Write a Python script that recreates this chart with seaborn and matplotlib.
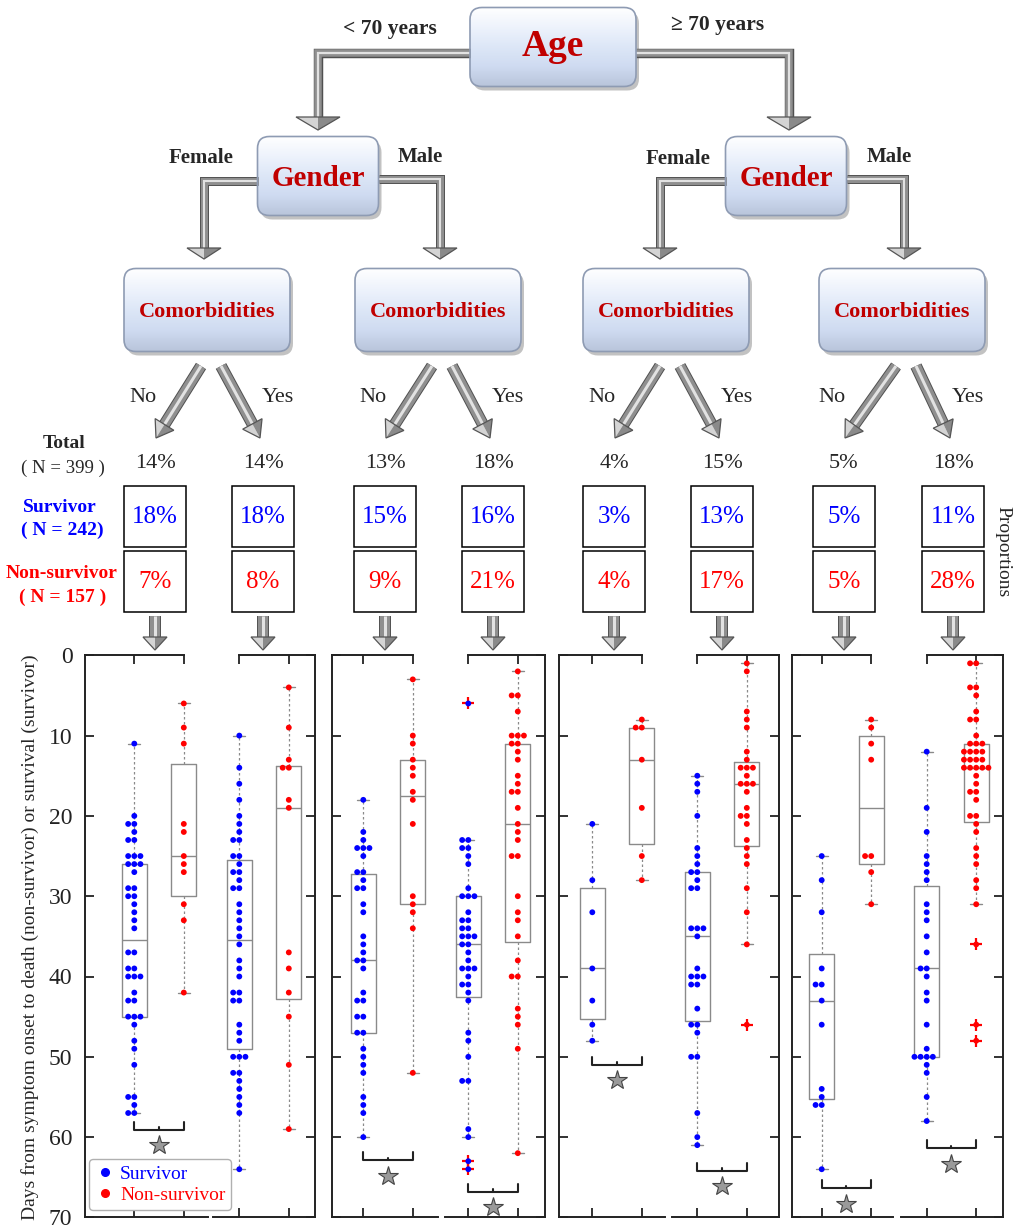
import numpy as np
import pandas as pd
import matplotlib
matplotlib.use("Agg")
import matplotlib.pyplot as plt
import seaborn as sns
from matplotlib.patches import FancyBboxPatch, Polygon, Rectangle
import matplotlib.patheffects as pe
from matplotlib.colors import LinearSegmentedColormap
from matplotlib.lines import Line2D

# ---------------- data ----------------
groups = ["<70 Female No", "<70 Female Yes", "<70 Male No", "<70 Male Yes",
          ">=70 Female No", ">=70 Female Yes", ">=70 Male No", ">=70 Male Yes"]

surv_lt70_female_no = [11, 20, 21, 21, 22, 23, 23, 25, 25, 25, 26, 26, 26, 27, 29, 29, 30, 30, 31, 32, 33, 34,
                       37, 37, 39, 39, 40, 40, 40, 42, 43, 43, 45, 45, 45, 46, 48, 49, 51, 55, 55, 56, 57, 57]
surv_lt70_female_yes = [10, 14, 16, 18, 20, 21, 22, 23, 23, 25, 25, 26, 27, 27, 28, 29, 29, 31, 32, 33, 34, 35,
                        36, 38, 39, 40, 42, 42, 43, 43, 46, 47, 48, 50, 50, 50, 52, 52, 53, 54, 55, 56, 57, 64]
surv_lt70_male_no = [18, 22, 23, 24, 24, 24, 25, 27, 27, 28, 29, 29, 31, 32, 35, 36, 37, 38, 38, 39, 42, 43, 43,
                     45, 45, 47, 47, 49, 50, 51, 52, 55, 56, 57, 60]
surv_lt70_male_yes = [6, 23, 23, 24, 24, 25, 26, 29, 30, 30, 30, 32, 33, 33, 34, 34, 35, 35, 35, 36, 36, 37, 38,
                      39, 39, 39, 40, 41, 41, 42, 43, 47, 48, 50, 53, 53, 59, 60, 63, 64]
surv_ge70_female_no = [21, 28, 32, 39, 43, 46, 48]
surv_ge70_female_yes = [15, 16, 17, 20, 24, 25, 26, 27, 27, 28, 29, 29, 34, 34, 34, 35, 39, 40, 40, 40, 41, 41,
                        44, 46, 46, 47, 50, 50, 57, 60, 61]
surv_ge70_male_no = [25, 28, 32, 39, 41, 41, 43, 46, 54, 55, 56, 56, 64]
surv_ge70_male_yes = [12, 19, 22, 25, 26, 27, 28, 31, 32, 33, 35, 37, 39, 39, 40, 42, 43, 46, 49, 50, 50, 50, 50,
                      51, 52, 55, 58]

nons_lt70_female_no = [6, 9, 11, 21, 22, 25, 26, 27, 31, 33, 42]
nons_lt70_female_yes = [4, 9, 13, 14, 14, 18, 19, 37, 39, 42, 45, 51, 59]
nons_lt70_male_no = [3, 10, 11, 13, 14, 15, 17, 18, 21, 30, 31, 32, 34, 52]
nons_lt70_male_yes = [2, 5, 5, 7, 10, 10, 10, 11, 11, 12, 13, 15, 16, 17, 17, 19, 21, 22, 23, 25, 25, 30, 32, 33,
                      35, 38, 40, 40, 44, 45, 46, 49, 62]
nons_ge70_female_no = [8, 9, 9, 13, 19, 25, 28]
nons_ge70_female_yes = [1, 2, 7, 8, 9, 12, 13, 14, 14, 14, 15, 16, 16, 16, 17, 19, 20, 20, 21, 23, 24, 25, 26,
                        29, 32, 36, 46]
nons_ge70_male_no = [8, 9, 11, 13, 25, 25, 27, 31]
nons_ge70_male_yes = [1, 1, 4, 4, 5, 7, 8, 8, 10, 11, 11, 11, 12, 12, 12, 12, 13, 13, 13, 13, 14, 14, 14, 14, 14,
                      15, 16, 17, 17, 18, 20, 20, 21, 22, 24, 25, 26, 28, 29, 31, 36, 46, 48]

survivor_groups = [surv_lt70_female_no, surv_lt70_female_yes, surv_lt70_male_no, surv_lt70_male_yes,
                   surv_ge70_female_no, surv_ge70_female_yes, surv_ge70_male_no, surv_ge70_male_yes]
nonsurvivor_groups = [nons_lt70_female_no, nons_lt70_female_yes, nons_lt70_male_no, nons_lt70_male_yes,
                      nons_ge70_female_no, nons_ge70_female_yes, nons_ge70_male_no, nons_ge70_male_yes]

total_pct = [14, 14, 13, 18, 4, 15, 5, 18]
survivor_pct = [18, 18, 15, 16, 3, 13, 5, 11]
nonsurvivor_pct = [7, 8, 9, 21, 4, 17, 5, 28]
comorb_labels = ["No", "Yes"]
yticks = [0, 10, 20, 30, 40, 50, 60, 70]
# significance brackets (None = no bracket)
bracket_y = [59.1, None, 62.9, 66.8, 51.0, 64.2, 66.4, 61.4]

STATUS = ["Survivor", "Non-survivor"]
PALETTE = {"Survivor": "#0000ff", "Non-survivor": "#ff0000"}
DARKRED = "#c00000"

# ---------------- style ----------------
sns.set_theme(style="ticks")
plt.rcParams["font.family"] = ["Liberation Serif", "DejaVu Serif"]
plt.rcParams["axes.edgecolor"] = "black"
plt.rcParams["xtick.color"] = "black"
plt.rcParams["ytick.color"] = "black"

W, H = 1020, 1228
fig = plt.figure(figsize=(W / 100, H / 100), dpi=100)
bg = fig.add_axes([0, 0, 1, 1], zorder=0)
bg.set_xlim(0, W)
bg.set_ylim(H, 0)
bg.axis("off")

grad_cmap = LinearSegmentedColormap.from_list(
    "boxgrad", ["#ffffff", "#eef3fc", "#dde7f7", "#cfdbf1", "#b9c5db"])


def draw_box(cx, cy, w, h, rad=12):
    x0, y0 = cx - w / 2, cy - h / 2
    shadow = FancyBboxPatch((x0 + 3, y0 + 4), w, h, boxstyle=f"round,pad=0,rounding_size={rad}",
                            fc="#909090", ec="none", alpha=0.55, zorder=1)
    bg.add_patch(shadow)
    clip = FancyBboxPatch((x0, y0), w, h, boxstyle=f"round,pad=0,rounding_size={rad}",
                          fc="none", ec="none", zorder=2)
    bg.add_patch(clip)
    grad = np.linspace(0, 1, 200).reshape(-1, 1)
    im = bg.imshow(grad, extent=(x0, x0 + w, y0 + h, y0), cmap=grad_cmap, aspect="auto",
                   origin="upper", zorder=2, interpolation="bilinear")
    im.set_clip_path(clip)
    edge = FancyBboxPatch((x0, y0), w, h, boxstyle=f"round,pad=0,rounding_size={rad}",
                          fc="none", ec="#8e9bb3", lw=1.2, zorder=3)
    bg.add_patch(edge)


def shaft(xs, ys, w=7):
    lw = w * 0.72
    bg.plot(xs, ys, color="#8f8f8f", lw=lw, solid_capstyle="butt", solid_joinstyle="miter", zorder=2,
            path_effects=[pe.Stroke(linewidth=lw + 1.4, foreground="#505050"), pe.Normal()])
    bg.plot(xs, ys, color="#e2e2e2", lw=lw * 0.3, solid_capstyle="butt", solid_joinstyle="miter", zorder=2)


def head(tip, direction, width, length):
    d = np.asarray(direction, float)
    d = d / np.hypot(*d)
    n = np.array([-d[1], d[0]])
    tip = np.asarray(tip, float)
    base = tip - d * length
    p1, p2 = base + n * width / 2, base - n * width / 2
    bg.add_patch(Polygon([p1, tip, base], closed=True, fc="#d4d4d4", ec="none", zorder=3))
    bg.add_patch(Polygon([p2, tip, base], closed=True, fc="#8a8a8a", ec="none", zorder=3))
    bg.add_patch(Polygon([p1, tip, p2], closed=True, fc="none", ec="#555555", lw=0.9, zorder=3))


def arrow(start, tip, w=10, hw=22, hl=15):
    start = np.asarray(start, float)
    tip = np.asarray(tip, float)
    d = tip - start
    d = d / np.hypot(*d)
    end = tip - d * hl
    shaft([start[0], end[0]], [start[1], end[1]], w)
    head(tip, d, hw, hl)


# ---------------- tree diagram ----------------
draw_box(553, 47, 166, 79)
bg.text(553, 46, "Age", color=DARKRED, fontsize=27, fontweight="bold", ha="center", va="center", zorder=4)
bg.text(390, 29, "< 70 years", fontsize=15.5, fontweight="bold", ha="center", va="center")
bg.text(718, 25, "\u2265 70 years", fontsize=15.5, fontweight="bold", ha="center", va="center")
shaft([470, 318, 318], [53, 53, 118], 7.5)
head((318, 130), (0, 1), 44, 13)
shaft([636, 789, 789], [53, 53, 118], 7.5)
head((789, 130), (0, 1), 44, 13)

gender_cx = [318, 786]
for gx in gender_cx:
    draw_box(gx, 176, 121, 79)
    bg.text(gx, 179, "Gender", color=DARKRED, fontsize=21, fontweight="bold", ha="center", va="center", zorder=4)
gender_arms = [(258, 204), (379, 440), (726, 660), (847, 904)]
gender_arm_y = [181, 179, 181, 179]
for (x0, x1), yy in zip(gender_arms, gender_arm_y):
    shaft([x0, x1, x1], [yy, yy, 249], 7)
    head((x1, 259), (0, 1), 34, 11)
bg.text(201, 158, "Female", fontsize=15, fontweight="bold", ha="center", va="center")
bg.text(420, 157, "Male", fontsize=15, fontweight="bold", ha="center", va="center")
bg.text(678, 159, "Female", fontsize=15, fontweight="bold", ha="center", va="center")
bg.text(889, 157, "Male", fontsize=15, fontweight="bold", ha="center", va="center")

comorb_cx = [207, 438, 666, 902]
col_x = [155, 263, 385, 493, 614, 722, 844, 953]
for k, cx in enumerate(comorb_cx):
    draw_box(cx, 310, 166, 83)
    bg.text(cx, 312, "Comorbidities", color=DARKRED, fontsize=16, fontweight="bold",
            ha="center", va="center", zorder=4)
    xn, xy = col_x[2 * k], col_x[2 * k + 1]
    arrow((cx - 6, 366), (xn + 1, 438), w=10, hw=22, hl=16)
    arrow((cx + 14, 366), (xy - 3, 438), w=10, hw=22, hl=16)
    bg.text(xn - 12, 398, comorb_labels[0], fontsize=16, ha="center", va="center")
    bg.text(xy + 15, 398, comorb_labels[1], fontsize=16, ha="center", va="center")

bg.text(64, 444, "Total", fontsize=14, fontweight="bold", ha="center", va="center")
bg.text(63, 468, "( N = 399 )", fontsize=13.5, ha="center", va="center")
bg.text(60, 507, "Survivor", fontsize=14, fontweight="bold", color="#0000ff", ha="center", va="center")
bg.text(62, 530, "( N = 242)", fontsize=14, fontweight="bold", color="#0000ff", ha="center", va="center")
bg.text(62, 574, "Non-survivor", fontsize=14, fontweight="bold", color="#ff0000", ha="center", va="center")
bg.text(63, 597, "( N = 157 )", fontsize=14, fontweight="bold", color="#ff0000", ha="center", va="center")
bg.text(1003, 552, "Proportions", fontsize=14, rotation=270, ha="center", va="center")

for k, cx in enumerate(col_x):
    bg.text(cx, 463, f"{total_pct[k]}%", fontsize=16, ha="center", va="center")
    bg.add_patch(Rectangle((cx - 31, 486), 62, 61, fc="white", ec="black", lw=1.1, zorder=2))
    bg.add_patch(Rectangle((cx - 31, 551), 62, 61, fc="white", ec="black", lw=1.1, zorder=2))
    bg.text(cx, 517, f"{survivor_pct[k]}%", fontsize=18, color="#0000ff", ha="center", va="center", zorder=3)
    bg.text(cx, 582, f"{nonsurvivor_pct[k]}%", fontsize=18, color="#ff0000", ha="center", va="center", zorder=3)
    shaft([cx, cx], [616, 637], 10)
    head((cx, 650), (0, 1), 24, 13)

bg.set_xlim(0, W)
bg.set_ylim(H, 0)

# ---------------- box / swarm panels ----------------
AX_TOP, AX_BOT = 655.3, 1217.4
SUB_L = [85, 213.3, 331.7, 445, 559, 671.7, 792.3, 900.7]
SUB_R = [208.3, 315, 437.7, 545, 665, 779, 893.3, 1003.3]
POS0 = [134.3, 239.3, 363.3, 468.3, 592.3, 697.3, 821.7, 926.7]
UNIT = 49.5


def box_stats(vals):
    v = np.asarray(vals, float)
    q1, med, q3 = np.percentile(v, [25, 50, 75], method="hazen")
    iqr = q3 - q1
    lo, hi = q1 - 1.5 * iqr, q3 + 1.5 * iqr
    inside = v[(v >= lo) & (v <= hi)]
    return dict(med=med, q1=q1, q3=q3, whislo=inside.min(), whishi=inside.max(),
                fliers=v[(v < lo) | (v > hi)])


GRAY = "#8a8a8a"
for i in range(8):
    L, R = SUB_L[i], SUB_R[i]
    ax = fig.add_axes([L / W, 1 - AX_BOT / H, (R - L) / W, (AX_BOT - AX_TOP) / H], zorder=2)
    ax.patch.set_alpha(0)
    s, n = survivor_groups[i], nonsurvivor_groups[i]
    ax.bxp([box_stats(s), box_stats(n)], positions=[0, 1], widths=0.5, capwidths=0.25,
           manage_ticks=False, showfliers=True,
           boxprops=dict(color=GRAY, lw=1.0),
           medianprops=dict(color=GRAY, lw=1.0),
           whiskerprops=dict(color=GRAY, lw=0.9, ls=(0, (2, 2))),
           capprops=dict(color=GRAY, lw=1.0),
           flierprops=dict(marker="+", markeredgecolor="#ff0000", markersize=8, markeredgewidth=1.6))
    df = pd.DataFrame({"status": [STATUS[0]] * len(s) + [STATUS[1]] * len(n),
                       "days": list(s) + list(n)})
    sns.swarmplot(data=df, x="status", y="days", hue="status", order=STATUS, hue_order=STATUS,
                  palette=PALETTE, size=4.2, linewidth=0, legend=False, ax=ax, zorder=4)
    xl = ((L - POS0[i]) / UNIT, (R - POS0[i]) / UNIT)
    ax.set_xlim(xl)
    ax.set_ylim(70, 0)
    ax.set_xticks([0, 1])
    ax.set_xticklabels([])
    ax.set_yticks(yticks)
    ax.set_xlabel("")
    ax.set_ylabel("")
    left_sub = (i % 2 == 0)
    for sp in ax.spines.values():
        sp.set_linewidth(1.4)
        sp.set_color("#222222")
    ax.spines["right"].set_visible(not left_sub)
    ax.spines["left"].set_visible(left_sub)
    if left_sub:
        ax.spines["top"].set_bounds(xl[0], 1)
    else:
        ax.spines["top"].set_bounds(0, xl[1])
    ax.tick_params(axis="both", direction="in", length=6.3, width=1.3, colors="#222222")
    ax.tick_params(axis="x", top=True, bottom=True, labelbottom=False)
    ax.tick_params(axis="y", left=left_sub, right=not left_sub, labelleft=(i == 0), labelright=False,
                   labelsize=17, pad=9)
    if bracket_y[i] is not None:
        b = bracket_y[i]
        ax.plot([0, 0, 1, 1], [b - 1.0, b, b, b - 1.0], color="#222222", lw=1.5, clip_on=False, zorder=5)
        ax.plot([0.5, 0.5], [b, b - 0.3], color="#222222", lw=1.5, clip_on=False, zorder=5)
        ax.plot([0.5], [b + 1.9], marker="*", ms=15, color="#9a9a9a", mec="#444444", mew=0.8,
                clip_on=False, zorder=5)

fig.text(30 / W, 1 - 937 / H, "Days from symptom onset to death (non-survivor) or survival (survivor)",
         rotation=90, fontsize=14, ha="center", va="center")

handles = [Line2D([], [], marker="o", ls="", color=PALETTE[s], ms=5.5, label=s) for s in STATUS]
leg = fig.legend(handles=handles, loc="lower left", bbox_to_anchor=(89 / W, 1 - 1210 / H),
                 bbox_transform=fig.transFigure, fontsize=14, frameon=True, fancybox=True,
                 edgecolor="#b0b0b0", framealpha=1, handletextpad=0.3, handlelength=1.0,
                 borderpad=0.3, labelspacing=0.2, borderaxespad=0)
for txt, s in zip(leg.get_texts(), STATUS):
    txt.set_color(PALETTE[s])
leg.set_zorder(6)

fig.savefig("out.png", dpi=100)
